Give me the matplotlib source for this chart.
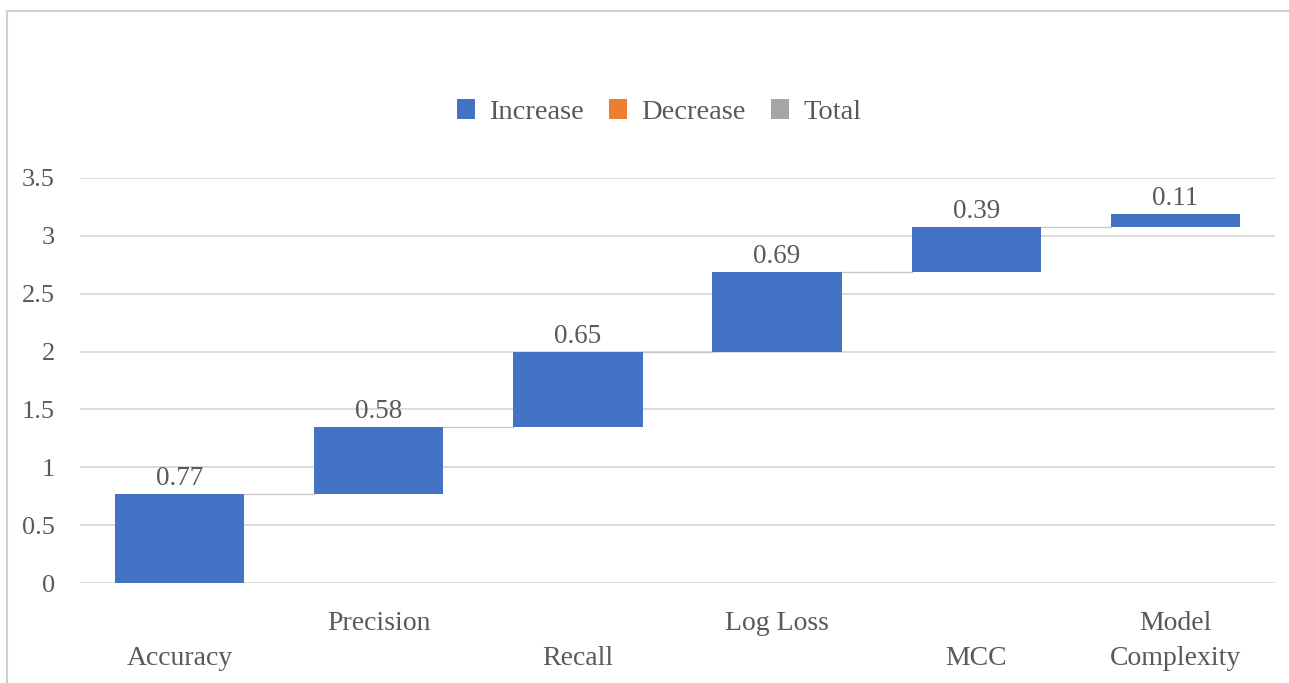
import matplotlib
matplotlib.use("Agg")
import matplotlib.pyplot as plt
from matplotlib.patches import Patch
from matplotlib.lines import Line2D
import numpy as np

# metric contributions (waterfall steps)
categories = ["Accuracy", "Precision", "Recall", "Log Loss", "MCC", "Model Complexity"]
tick_labels = ["\nAccuracy", "Precision\n", "\nRecall", "Log Loss\n", "\nMCC", "Model\nComplexity"]
values = [0.77, 0.58, 0.65, 0.69, 0.39, 0.11]
legend_names = ["Increase", "Decrease", "Total"]

blue = "#4472C4"
orange = "#ED7D31"
grey = "#A5A5A5"
txt = "#595959"

plt.rcParams["font.family"] = ["Liberation Serif", "DejaVu Serif"]
plt.rcParams["font.size"] = 19

fig = plt.figure(figsize=(12.89, 6.83), dpi=100)
ax = fig.add_axes([80 / 1289, 100 / 683, 1195 / 1289, 405 / 683])

x = np.arange(len(values))
vals = np.array(values)
ends = np.cumsum(vals)
starts = ends - vals
w = 0.65

ax.bar(x, vals, bottom=starts, width=w, color=blue, zorder=3)

# connectors between steps
for i in range(len(values) - 1):
    ax.plot([x[i] + w / 2, x[i + 1] - w / 2], [ends[i], ends[i]],
            color="#C8C8C8", lw=1.0, zorder=2)

for xi, top, v in zip(x, ends, values):
    ax.annotate(f"{v:.2f}", (xi, top), xytext=(0, 2), textcoords="offset points",
                ha="center", va="bottom", color=txt, fontsize=19.5)

ax.set_xlim(-0.5, len(values) - 0.5)
ax.set_ylim(0, 3.5)
ax.set_yticks(np.arange(0, 3.51, 0.5))
ax.set_yticklabels(["0", "0.5", "1", "1.5", "2", "2.5", "3", "3.5"])
ax.set_xticks(x)
ax.set_xticklabels(tick_labels, linespacing=1.55, fontsize=20)
ax.tick_params(axis="both", length=0, colors=txt)
ax.tick_params(axis="y", labelsize=19, pad=18)
ax.tick_params(axis="x", pad=20)
ax.grid(axis="y", color="#D9D9D9", lw=1.3, zorder=0)
for s in ax.spines.values():
    s.set_visible(False)

handles = [Patch(facecolor=c, edgecolor="none") for c in (blue, orange, grey)]
fig.legend(handles, legend_names, loc="center", bbox_to_anchor=(659 / 1289, 1 - 112 / 683),
           ncol=3, frameon=False, fontsize=20.5, handlelength=0.62, handleheight=0.72,
           handletextpad=0.5, columnspacing=0.9, labelcolor=txt)

# outer chart border (top and left edges)
fig.add_artist(Line2D([7 / 1289, 7 / 1289], [0, 1 - 11 / 683], transform=fig.transFigure,
                      color="#D0D0D0", lw=1.5))
fig.add_artist(Line2D([7 / 1289, 1], [1 - 11 / 683, 1 - 11 / 683], transform=fig.transFigure,
                      color="#D0D0D0", lw=1.5))

fig.savefig("out.png", dpi=100)
